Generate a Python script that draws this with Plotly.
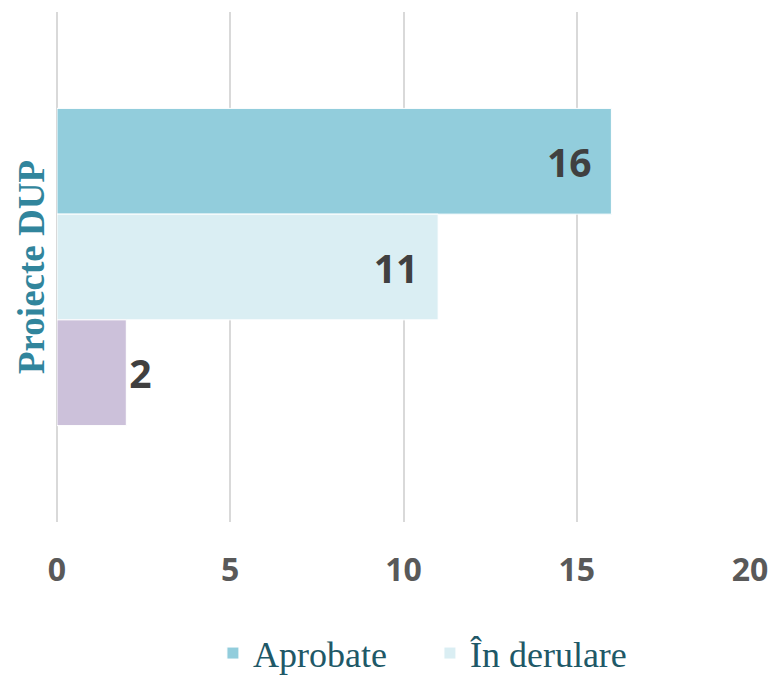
import plotly.graph_objects as go

categorie = ["Proiecte DUP"]
serii = ["Aprobate", "În derulare", "Alte"]
valori = [16, 11, 2]
in_legenda = [True, True, False]
culori = ["#92CDDC", "#DAEEF3", "#CCC1DA"]
x_ticks = [0, 5, 10, 15, 20]

fig = go.Figure()
for nume, val, leg, cul in zip(serii, valori, in_legenda, culori):
    # etichete in interior pentru barele lungi, in exterior pentru cea scurta
    inside = val > 5
    fig.add_trace(go.Bar(
        y=categorie, x=[val], name=nume, orientation="h",
        marker=dict(color=cul, line=dict(color="white", width=1)),
        text=[f"{val}\u2009\u2009\u200a" if inside else f"{val}"],
        textposition="inside" if inside else "outside",
        insidetextanchor="end",
        textfont=dict(family="Open Sans", size=39, color="#404040", weight="bold"),
        cliponaxis=False,
        showlegend=leg,
    ))

fig.update_layout(
    width=771, height=675,
    margin=dict(l=57, r=21, t=12, b=153, autoexpand=False),
    paper_bgcolor="white", plot_bgcolor="white",
    barmode="group", bargap=0.378, bargroupgap=0,
    showlegend=True,
    legend=dict(orientation="h", x=0.225, xanchor="left", y=-0.316, yanchor="bottom",
                font=dict(family="Liberation Serif", size=36, color="#205867"),
                itemwidth=30, entrywidth=172, entrywidthmode="pixels"),
    xaxis=dict(range=[0, 20], tickvals=x_ticks, showgrid=True, gridcolor="#D9D9D9", gridwidth=2,
               zeroline=True, zerolinecolor="#D9D9D9", zerolinewidth=2, showline=False,
               automargin=False,
               ticks="outside", ticklen=20, tickcolor="rgba(0,0,0,0)",
               tickfont=dict(family="Open Sans", size=32, color="#595959", weight="bold")),
    yaxis=dict(autorange="reversed", showticklabels=False, showgrid=False, zeroline=False,
               automargin=False,
               title=dict(text="Proiecte DUP", standoff=0,
                          font=dict(family="Liberation Serif", size=37, color="#31859C", weight="bold"))),
)

fig.write_html("out.html", config={"displayModeBar": False},
               post_script="document.body.style.margin='0';")
